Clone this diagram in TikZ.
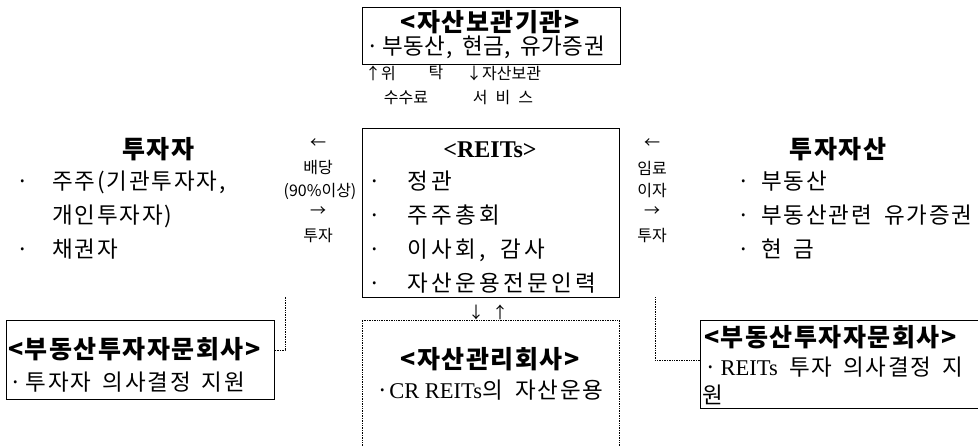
\documentclass[tikz,border=0pt]{standalone}
\usepackage{fontspec}
\setmainfont[WordSpace=1.8]{Noto Sans CJK KR}
\newfontfamily\lat{Liberation Serif}
\begin{document}
\begin{tikzpicture}[x=1pt,y=-1pt,
  box/.style={draw, line width=0.8pt, inner sep=0pt},
  dotbox/.style={densely dotted, line width=0.7pt},
  ttl/.style={font=\fontsize{25}{29}\selectfont\bfseries\addfontfeature{LetterSpace=6}, inner sep=0pt, anchor=base},
  txt/.style={font=\fontsize{22.5}{26}\selectfont\addfontfeature{LetterSpace=8}, inner sep=0pt, anchor=base west},
  wide/.style={font=\fontsize{22.5}{26}\selectfont\addfontfeature{LetterSpace=15}},
  narrow/.style={font=\fontsize{22.5}{26}\selectfont\addfontfeature{LetterSpace=2}},
  sm/.style={font=\fontsize{16}{19}\selectfont, inner sep=0pt}]
\useasboundingbox (0,0) rectangle (978,446);
% boxes
\node[box, minimum width=258pt, minimum height=57pt, anchor=north west] (store) at (362,7) {};
\node[box, minimum width=257pt, minimum height=169pt, anchor=north west] (reits) at (362,128) {};
\node[box, minimum width=268pt, minimum height=79pt, anchor=north west] (ladv) at (6,320) {};
\node[box, minimum width=290pt, minimum height=88pt, anchor=north west] (radv) at (700,320) {};
\coordinate (mgA) at (362,446);
\coordinate (mgB) at (362,320);
\coordinate (mgC) at (619,320);
\coordinate (mgD) at (619,446);
\draw[dotbox] (mgA) -- (mgB) -- (mgC) -- (mgD);
% top box text
\node[ttl] (storeT) at (490,32) {<자산보관기관>};
\node[txt, narrow] (storeI) at (366,55) {·\,부동산, 현금, 유가증권};
\node[sm, anchor=west] (feeA) at (365,73) {↑위};
\node[sm] (feeA2) at (436,73) {탁};
\node[sm, anchor=west] (feeA3) at (466,73) {↓자산보관};
\node[sm] (feeB) at (406,98) {수수료};
\node[sm] (feeC) at (503,98) {서\enspace 비\enspace 스};
% REITs
\node[ttl, font=\fontsize{24}{28}\selectfont\lat\bfseries] (reitsT) at (490,158) {<REITs>};
\node[txt, wide] (ri1) at (368,190) {·\enspace\ 정관};
\node[txt, wide] (ri2) at (368,224) {·\enspace\ 주주총회};
\node[txt, wide] (ri3) at (368,258) {·\enspace\ 이사회, 감사};
\node[txt, wide] (ri4) at (368,292) {·\enspace\ 자산운용전문인력};
\node[sm] (ud) at (488,312) {↓\enspace↑};
% asset manager
\node[ttl] (mgT) at (490,369) {<자산관리회사>};
\node[txt, anchor=base] (mgI) at (490,399) {·{\lat CR REITs}의 자산운용};
% investor
\node[ttl] (invT) at (158,159) {투자자};
\node[txt] (ii1) at (16,190) {·\enspace\ 주주(기관투자자,};
\node[txt] (ii2) at (52,224) {개인투자자)};
\node[txt] (ii3) at (16,258) {·\enspace\ 채권자};
% left flow
\node[sm] (la1) at (318,144) {←};
\node[sm] (la2) at (318,168) {배당};
\node[sm] (la3) at (320,191) {(90\%이상)};
\node[sm] (la4) at (318,212) {→};
\node[sm] (la5) at (318,236) {투자};
% right flow
\node[sm] (ra1) at (652,144) {←};
\node[sm] (ra2) at (652,168) {임료};
\node[sm] (ra3) at (652,191) {이자};
\node[sm] (ra4) at (652,212) {→};
\node[sm] (ra5) at (652,236) {투자};
% assets
\node[ttl] (asT) at (838,159) {투자자산};
\node[txt] (ai1) at (737,190) {·\enspace 부동산};
\node[txt] (ai2) at (737,224) {·\enspace 부동산관련 유가증권};
\node[txt] (ai3) at (737,258) {·\enspace 현\enspace 금};
% left advisor
\node[ttl, anchor=base west] (lT) at (8,359) {<부동산투자자문회사>};
\node[txt] (lI) at (9,391) {·\,투자자\enspace 의사결정\enspace 지원};
% right advisor
\node[ttl, anchor=base west] (rT) at (704,347) {<부동산투자자문회사>};
\node[txt] (rI) at (704,376) {·\,{\lat REITs}\enspace 투자\enspace 의사결정\enspace 지};
\node[txt] (rI2) at (702,403) {원};
% connectors
\coordinate (lc) at (285,297);
\coordinate (rc) at (655,297);
\draw[dotbox] (ladv.east |- 0,350) -| (lc);
\draw[dotbox] (radv.west |- 0,360) -| (rc);
\end{tikzpicture}
\end{document}
